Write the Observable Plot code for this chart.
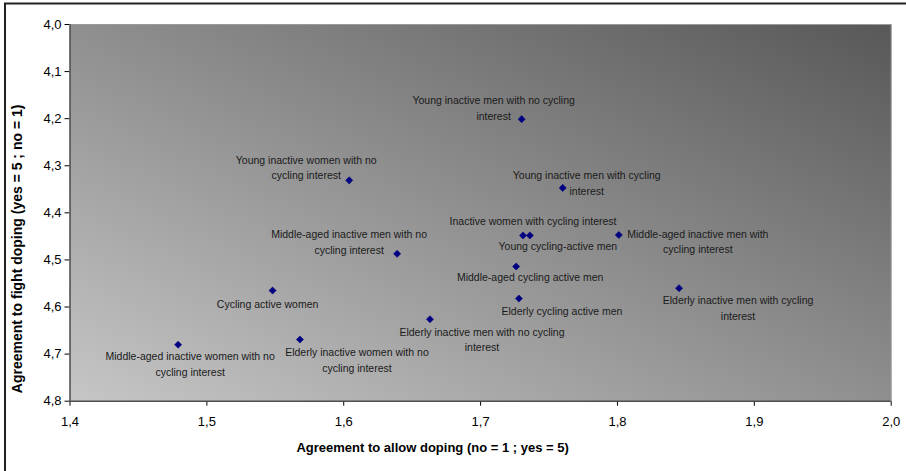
<!DOCTYPE html>
<html>
<head>
<meta charset="utf-8">
<script src="https://cdn.jsdelivr.net/npm/d3@7"></script>
<script src="https://cdn.jsdelivr.net/npm/@observablehq/plot@0.6"></script>
<style>
  body { margin: 0; background: #fff; }
  #chart svg { display: block; }
</style>
</head>
<body>
<div id="chart"></div>
<script>
// Respondent groups (label text, with line breaks as shown on the chart)
const groups = [
  "Young inactive men with no cycling\ninterest",
  "Young inactive women with no\ncycling interest",
  "Young inactive men with cycling\ninterest",
  "Inactive women with cycling interest",
  "Young cycling-active men",
  "Middle-aged inactive men with\ncycling interest",
  "Middle-aged inactive men with no\ncycling interest",
  "Middle-aged cycling active men",
  "Cycling active women",
  "Elderly cycling active men",
  "Elderly inactive men with cycling\ninterest",
  "Elderly inactive men with no cycling\ninterest",
  "Elderly inactive women with no\ncycling interest",
  "Middle-aged inactive women with no\ncycling interest"
];

// Mean agreement to allow doping (no = 1 ; yes = 5)
const allowDoping = [1.730, 1.604, 1.760, 1.731, 1.736, 1.801, 1.639, 1.726, 1.548, 1.728, 1.845, 1.663, 1.568, 1.479];

// Mean agreement to fight doping (yes = 5 ; no = 1)
const fightDoping = [4.201, 4.331, 4.347, 4.448, 4.448, 4.447, 4.487, 4.514, 4.565, 4.582, 4.560, 4.626, 4.669, 4.680];

const xTicks = [1.4, 1.5, 1.6, 1.7, 1.8, 1.9, 2.0];
const yTicks = [4.0, 4.1, 4.2, 4.3, 4.4, 4.5, 4.6, 4.7, 4.8];

const xTitle = "Agreement to allow doping (no = 1 ; yes = 5)";
const yTitle = "Agreement to fight doping (yes = 5 ; no = 1)";

// Pixel offset of each data label from its marker [dx, dy]
const labelOffsets = [
  [-28, -12.5], [-43, -14], [24, -6], [10, -15], [28, 10], [79, 5.5], [-48, -12.7],
  [14, 9], [-5, 12], [43, 11], [59, 18.5], [52, 19.3], [57, 19.3], [12, 18]
];

const rows = groups.map((g, i) => ({group: g, allow: allowDoping[i], fight: fightDoping[i]}));
const commaFmt = d => d3.format(".1f")(d).replace(".", ",");

const labelMarks = rows.map((r, i) => Plot.text([r], {
  x: "allow", y: "fight", text: "group",
  dx: labelOffsets[i][0], dy: labelOffsets[i][1],
  fontSize: 10.5, lineHeight: 1.5, fill: "#1a1a1a"
}));

const chart = Plot.plot({
  width: 906,
  height: 471,
  marginLeft: 69.5,
  marginRight: 15.3,
  marginTop: 24,
  marginBottom: 70.3,
  style: {fontFamily: "Arial, 'Liberation Sans', sans-serif", fontSize: "13px", color: "#000", background: "transparent"},
  x: {domain: [1.4, 2.0], ticks: xTicks, tickFormat: commaFmt, tickSize: 5, tickPadding: 11, label: null},
  y: {domain: [4.0, 4.8], reverse: true, ticks: yTicks, tickFormat: commaFmt, tickSize: 5, tickPadding: 3.5, label: null},
  marks: [
    Plot.frame({fill: "url(#plotBg)", stroke: "#9a9a9a"}),
    Plot.ruleX([1.4], {stroke: "#222"}),
    Plot.ruleY([4.8], {stroke: "#222"}),
    Plot.dot(rows, {x: "allow", y: "fight", symbol: "diamond2", r: 3.2, fill: "#000080", stroke: "#000080", strokeWidth: 0.6}),
    ...labelMarks,
    Plot.text([xTitle], {text: d => d, frameAnchor: "bottom", lineAnchor: "middle", textAnchor: "middle",
      dx: -48, dy: 47, fontWeight: "bold", fontSize: 13}),
    Plot.text([yTitle], {text: d => d, frameAnchor: "left", lineAnchor: "middle", textAnchor: "middle",
      rotate: -90, dx: -52, dy: 36, fontWeight: "bold", fontSize: 14})
  ]
});

// Diagonal grey gradient for the plot area, light at bottom-left to dark at top-right
const svg = d3.select(chart);
const grad = svg.insert("defs", ":first-child").append("linearGradient")
  .attr("id", "plotBg")
  .attr("x1", 0).attr("y1", 1).attr("x2", 1).attr("y2", 0);
grad.append("stop").attr("offset", "0%").attr("stop-color", "#c6c6c6");
grad.append("stop").attr("offset", "100%").attr("stop-color", "#585858");

// Chart-area border
svg.append("rect")
  .attr("x", 5).attr("y", 3.5).attr("width", 1000).attr("height", 1000)
  .attr("fill", "none").attr("stroke", "#222").attr("stroke-width", 2);

document.getElementById("chart").appendChild(chart);
</script>
</body>
</html>
